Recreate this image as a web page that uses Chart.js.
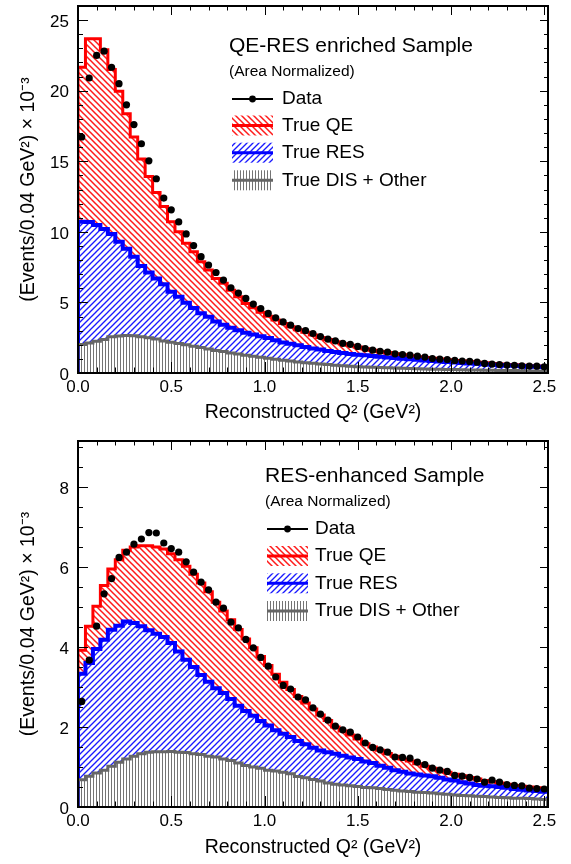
<!DOCTYPE html>
<html>
<head>
<meta charset="utf-8">
<script src="https://cdn.jsdelivr.net/npm/chart.js@4.4.1/dist/chart.umd.min.js"></script>
<style>
  html, body { margin: 0; padding: 0; background: #fff; }
  #wrap { position: relative; width: 571px; height: 864px; }
  .panel { position: absolute; left: 0; width: 571px; height: 432px; }
</style>
</head>
<body>
<div id="wrap">
  <div class="panel" style="top:0"><canvas id="qeresChart" width="571" height="432"></canvas></div>
  <div class="panel" style="top:432px"><canvas id="resChart" width="571" height="432"></canvas></div>
</div>
<script>
const FONT = "'Liberation Sans', Arial, Helvetica, sans-serif";

// histogram binning (GeV^2)
const binWidth = 0.04;
const xTicks = [0.0, 0.5, 1.0, 1.5, 2.0, 2.5];
const legendLabels = ['Data', 'True QE', 'True RES', 'True DIS + Other'];

// ---- QE-RES enriched sample (events x 10^-3 per bin) ----
const qeresYTicks = [0, 5, 10, 15, 20, 25];
const qeresData = [16.72, 20.9, 22.5, 22.8, 21.66, 20.5, 19.0, 17.6, 16.24, 15.03,
  13.76, 12.39, 11.56, 10.7, 9.85, 9.03, 8.24, 7.65, 7.12, 6.58,
  6.04, 5.66, 5.28, 4.88, 4.57, 4.22, 3.91, 3.62, 3.39, 3.15,
  3.0, 2.8, 2.58, 2.4, 2.27, 2.1, 2.03, 1.88, 1.73, 1.62,
  1.54, 1.48, 1.36, 1.31, 1.26, 1.19, 1.13, 1.02, 0.98, 0.95,
  0.89, 0.85, 0.82, 0.77, 0.68, 0.63, 0.6, 0.56, 0.55, 0.51,
  0.49, 0.48, 0.44];
// stacked tops: QE+RES+DIS, RES+DIS, DIS
const qeresStackQE = [21.66, 23.68, 23.68, 22.9, 21.5, 19.96, 18.37, 16.72, 15.16, 13.92,
  12.78, 11.79, 10.72, 10.0, 9.19, 8.59, 7.88, 7.29, 6.7, 6.35,
  5.87, 5.4, 4.93, 4.62, 4.3, 4.02, 3.75, 3.5, 3.28, 3.06,
  2.88, 2.7, 2.52, 2.38, 2.22, 2.08, 1.96, 1.84, 1.72, 1.62,
  1.53, 1.45, 1.37, 1.3, 1.23, 1.16, 1.1, 1.04, 0.99, 0.94,
  0.89, 0.85, 0.81, 0.77, 0.72, 0.68, 0.64, 0.61, 0.58, 0.55,
  0.52, 0.49, 0.46];
const qeresStackRES = [10.72, 10.7, 10.49, 10.2, 9.84, 9.3, 8.81, 8.24, 7.58, 7.12,
  6.7, 6.29, 5.76, 5.4, 4.98, 4.6, 4.24, 3.98, 3.65, 3.41,
  3.21, 3.03, 2.86, 2.72, 2.6, 2.48, 2.32, 2.16, 2.07, 1.97,
  1.85, 1.74, 1.66, 1.56, 1.49, 1.42, 1.35, 1.29, 1.25, 1.2,
  1.15, 1.1, 1.06, 1.01, 0.97, 0.93, 0.89, 0.85, 0.81, 0.78,
  0.75, 0.71, 0.68, 0.65, 0.62, 0.59, 0.57, 0.54, 0.51, 0.49,
  0.46, 0.44, 0.42];
const qeresStackDIS = [2.02, 2.13, 2.25, 2.37, 2.56, 2.63, 2.65, 2.64, 2.56, 2.49,
  2.4, 2.27, 2.18, 2.09, 2.0, 1.9, 1.8, 1.7, 1.6, 1.52,
  1.42, 1.35, 1.26, 1.19, 1.12, 1.04, 0.97, 0.9, 0.85, 0.78,
  0.73, 0.69, 0.64, 0.6, 0.55, 0.52, 0.47, 0.45, 0.43, 0.41,
  0.39, 0.37, 0.35, 0.33, 0.32, 0.3, 0.29, 0.27, 0.26, 0.25,
  0.24, 0.23, 0.22, 0.21, 0.2, 0.19, 0.18, 0.17, 0.17, 0.16,
  0.15, 0.15, 0.14];

// ---- RES-enhanced sample ----
const resYTicks = [0, 2, 4, 6, 8];
const resData = [2.64, 3.67, 4.52, 5.33, 5.71, 6.24, 6.37, 6.57, 6.7, 6.86,
  6.85, 6.6, 6.46, 6.37, 6.13, 5.87, 5.62, 5.43, 5.12, 4.97,
  4.62, 4.48, 4.19, 3.98, 3.74, 3.52, 3.25, 3.04, 2.95, 2.75,
  2.68, 2.48, 2.32, 2.17, 2.02, 1.93, 1.87, 1.75, 1.6, 1.49,
  1.43, 1.37, 1.25, 1.24, 1.22, 1.12, 1.06, 0.97, 0.92, 0.89,
  0.79, 0.77, 0.74, 0.7, 0.62, 0.67, 0.62, 0.56, 0.54, 0.53,
  0.47, 0.46, 0.45];
const resStackQE = [3.92, 4.52, 5.02, 5.54, 5.95, 6.18, 6.42, 6.5, 6.53, 6.53,
  6.5, 6.45, 6.33, 6.18, 6.02, 5.82, 5.6, 5.38, 5.12, 4.9,
  4.68, 4.44, 4.2, 3.98, 3.76, 3.54, 3.32, 3.12, 2.94, 2.76,
  2.6, 2.45, 2.3, 2.16, 2.0, 1.9, 1.8, 1.7, 1.58, 1.5,
  1.42, 1.34, 1.27, 1.2, 1.15, 1.08, 1.02, 0.97, 0.92, 0.87,
  0.82, 0.78, 0.74, 0.7, 0.66, 0.63, 0.6, 0.57, 0.54, 0.52,
  0.5, 0.48, 0.46];
const resStackRES = [3.33, 3.6, 3.95, 4.18, 4.43, 4.53, 4.64, 4.6, 4.52, 4.42,
  4.33, 4.25, 4.1, 3.89, 3.68, 3.5, 3.3, 3.13, 2.97, 2.85,
  2.7, 2.53, 2.4, 2.28, 2.15, 2.04, 1.92, 1.83, 1.75, 1.65,
  1.57, 1.48, 1.41, 1.37, 1.33, 1.28, 1.24, 1.2, 1.14, 1.1,
  1.03, 0.98, 0.92, 0.88, 0.84, 0.81, 0.79, 0.77, 0.73, 0.69,
  0.66, 0.62, 0.59, 0.55, 0.53, 0.52, 0.5, 0.48, 0.45, 0.43,
  0.41, 0.4, 0.38];
const resStackDIS = [0.68, 0.77, 0.85, 0.92, 1.02, 1.12, 1.2, 1.27, 1.33, 1.37,
  1.38, 1.38, 1.39, 1.37, 1.36, 1.33, 1.31, 1.27, 1.25, 1.2,
  1.16, 1.1, 1.04, 1.0, 0.97, 0.92, 0.9, 0.87, 0.83, 0.76,
  0.73, 0.69, 0.65, 0.6, 0.57, 0.55, 0.53, 0.51, 0.49, 0.48,
  0.46, 0.44, 0.42, 0.4, 0.39, 0.37, 0.36, 0.35, 0.33, 0.32,
  0.3, 0.29, 0.28, 0.27, 0.26, 0.25, 0.24, 0.23, 0.22, 0.22,
  0.21, 0.2, 0.19];

// hatch fill like ROOT's 3004 / 3005 / vertical styles
function hatch(ctx, kind, color, size, width) {
  const c = document.createElement('canvas');
  c.width = size; c.height = size;
  const g = c.getContext('2d');
  g.strokeStyle = color;
  g.lineWidth = width;
  g.beginPath();
  if (kind === 'down') {
    g.moveTo(-2, -2); g.lineTo(size + 2, size + 2);
    g.moveTo(-2, size - 2); g.lineTo(2, size + 2);
    g.moveTo(size - 2, -2); g.lineTo(size + 2, 2);
  } else if (kind === 'up') {
    g.moveTo(-2, size + 2); g.lineTo(size + 2, -2);
    g.moveTo(-2, 2); g.lineTo(2, -2);
    g.moveTo(size - 2, size + 2); g.lineTo(size + 2, size - 2);
  } else {
    g.moveTo(0.5, 0); g.lineTo(0.5, size);
  }
  g.stroke();
  return ctx.createPattern(c, 'repeat');
}

// step histogram: value i holds from edge i to edge i+1, rising from 0 at x=0
function histPoints(values) {
  const pts = [{ x: 0, y: 0 }];
  values.forEach((v, i) => pts.push({ x: i * binWidth, y: v }));
  pts.push({ x: values.length * binWidth, y: values[values.length - 1] });
  return pts;
}

function dataPoints(values) {
  return values.map((v, i) => ({ x: (i + 0.5) * binWidth, y: v }));
}

// frame, inward ticks on all four sides, and the in-pad legend
const rootStyle = {
  id: 'rootStyle',
  afterDatasetsDraw(chart, args, o) {
    const { ctx, chartArea: a, scales: { x, y } } = chart;
    ctx.save();
    ctx.strokeStyle = '#000';
    ctx.lineWidth = 1;
    ctx.beginPath();
    for (let k = 0; k * 0.1 <= x.max + 1e-9; k++) {
      const px = Math.round(x.getPixelForValue(k * 0.1)) + 0.5;
      const major = k % 5 === 0;
      ctx.moveTo(px, a.bottom); ctx.lineTo(px, a.bottom - (major ? 11 : 5.5));
      ctx.moveTo(px, a.top); ctx.lineTo(px, a.top + (major ? 9 : 4.5));
    }
    for (let k = 0; k * o.yMinor <= y.max + 1e-9; k++) {
      const py = Math.round(y.getPixelForValue(k * o.yMinor)) + 0.5;
      const major = k % o.yMajorEvery === 0;
      ctx.moveTo(a.left, py); ctx.lineTo(a.left + (major ? 10 : 5), py);
      ctx.moveTo(a.right, py); ctx.lineTo(a.right - (major ? 8 : 4), py);
    }
    ctx.stroke();
    ctx.lineWidth = 2;
    ctx.strokeRect(a.left, a.top, a.right - a.left, a.bottom - a.top);
    ctx.restore();
  },
  afterDraw(chart, args, o) {
    const { ctx } = chart;
    const L = o.legend;
    const ds = chart.data.datasets;
    ctx.save();
    ctx.fillStyle = '#000';
    ctx.textBaseline = 'middle';
    ctx.textAlign = 'left';
    ctx.font = `21px ${FONT}`;
    ctx.fillText(L.title, L.titleX, L.titleY);
    ctx.font = `15.5px ${FONT}`;
    ctx.fillText('(Area Normalized)', L.titleX, L.subY);
    ctx.font = `19px ${FONT}`;
    const rowSets = [ds[0], ds[3], ds[2], ds[1]];
    rowSets.forEach((d, r) => {
      const cy = L.rowsY[r];
      if (r === 0) {
        ctx.strokeStyle = '#000';
        ctx.lineWidth = 2;
        ctx.beginPath();
        ctx.moveTo(L.symX, cy); ctx.lineTo(L.symX + L.symW, cy);
        ctx.stroke();
        ctx.beginPath();
        ctx.arc(L.symX + L.symW / 2, cy, 3.4, 0, Math.PI * 2);
        ctx.fill();
      } else {
        ctx.fillStyle = d.fill.above;
        ctx.fillRect(L.symX, cy - 10, L.symW, 20);
        ctx.strokeStyle = d.borderColor;
        ctx.lineWidth = 3;
        ctx.beginPath();
        ctx.moveTo(L.symX, cy); ctx.lineTo(L.symX + L.symW, cy);
        ctx.stroke();
        ctx.fillStyle = '#000';
      }
      ctx.fillText(legendLabels[r], L.textX, cy);
    });
    ctx.restore();
  }
};

function makeChart(id, p) {
  const ctx = document.getElementById(id).getContext('2d');
  const tickFont = { family: FONT, size: 17 };
  const titleFont = { family: FONT, size: 19.5 };
  const grayHatch = hatch(ctx, 'vert', '#747474', 3, 1);
  const blueHatch = hatch(ctx, 'up', '#1a1aff', 6, 1.35);
  const redHatch = hatch(ctx, 'down', '#ff1a1a', 6, 1.5);
  return new Chart(ctx, {
    type: 'line',
    data: {
      datasets: [
        { label: legendLabels[0], data: dataPoints(p.data), showLine: false, fill: false,
          pointRadius: 3.6, pointBackgroundColor: '#000', pointBorderWidth: 0, order: 0 },
        { label: legendLabels[3], data: histPoints(p.dis), stepped: true,
          borderColor: '#666666', borderWidth: 3, backgroundColor: 'transparent',
          fill: { target: 'origin', above: grayHatch, below: 'transparent' }, pointRadius: 0, order: 1 },
        { label: legendLabels[2], data: histPoints(p.res), stepped: true,
          borderColor: '#0000ff', borderWidth: 4, backgroundColor: 'transparent',
          fill: { target: 1, above: blueHatch, below: 'transparent' }, pointRadius: 0, order: 2 },
        { label: legendLabels[1], data: histPoints(p.qe), stepped: true,
          borderColor: '#ff0000', borderWidth: 3, backgroundColor: 'transparent',
          fill: { target: 2, above: redHatch, below: 'transparent' }, pointRadius: 0, order: 3 }
      ]
    },
    options: {
      responsive: false,
      animation: false,
      devicePixelRatio: 1,
      events: [],
      layout: { padding: { left: 0, right: 23, top: p.padTop, bottom: 0 } },
      scales: {
        x: {
          type: 'linear', min: 0, max: 2.52,
          afterBuildTicks: s => { s.ticks = xTicks.map(v => ({ value: v })); },
          afterFit: s => { s.height = p.xHeight; s.paddingLeft = 0; s.paddingRight = 0; },
          grid: { display: false, drawTicks: false },
          border: { display: false },
          ticks: { font: tickFont, color: '#000', padding: 4, maxRotation: 0, autoSkip: false,
                   callback: v => v.toFixed(1) },
          title: { display: true, text: 'Reconstructed Q² (GeV²)', font: titleFont, color: '#000',
                   padding: { top: 0, bottom: p.xTitlePad } }
        },
        y: {
          type: 'linear', min: 0, max: p.yMax,
          afterBuildTicks: s => { s.ticks = p.yTicks.map(v => ({ value: v })); },
          afterFit: s => { s.width = 78; s.paddingTop = 0; s.paddingBottom = 0; },
          grid: { display: false, drawTicks: false },
          border: { display: false },
          ticks: { font: tickFont, color: '#000', padding: 9, labelOffset: 2,
                   callback: v => String(v) },
          title: { display: true, text: '(Events/0.04 GeV²) × 10⁻³', font: titleFont, color: '#000',
                   padding: { top: 17, bottom: 0 } }
        }
      },
      plugins: {
        legend: { display: false },
        tooltip: { enabled: false },
        rootStyle: { yMinor: p.yMinor, yMajorEvery: p.yMajorEvery, legend: p.legend }
      }
    },
    plugins: [rootStyle]
  });
}

makeChart('qeresChart', {
  data: qeresData, qe: qeresStackQE, res: qeresStackRES, dis: qeresStackDIS,
  yTicks: qeresYTicks, yMax: 26, yMinor: 1, yMajorEvery: 5,
  padTop: 6, xHeight: 59, xTitlePad: 8,
  legend: { title: 'QE-RES enriched Sample', titleX: 229, titleY: 46.5, subY: 72,
            rowsY: [99, 125.5, 152.7, 180.3], symX: 232, symW: 41, textX: 282 }
});

makeChart('resChart', {
  data: resData, qe: resStackQE, res: resStackRES, dis: resStackDIS,
  yTicks: resYTicks, yMax: 9.15, yMinor: 0.5, yMajorEvery: 4,
  padTop: 9, xHeight: 57, xTitlePad: 5,
  legend: { title: 'RES-enhanced Sample', titleX: 265, titleY: 44.7, subY: 69.7,
            rowsY: [97, 124, 151.3, 179], symX: 267, symW: 41, textX: 315 }
});
</script>
</body>
</html>
